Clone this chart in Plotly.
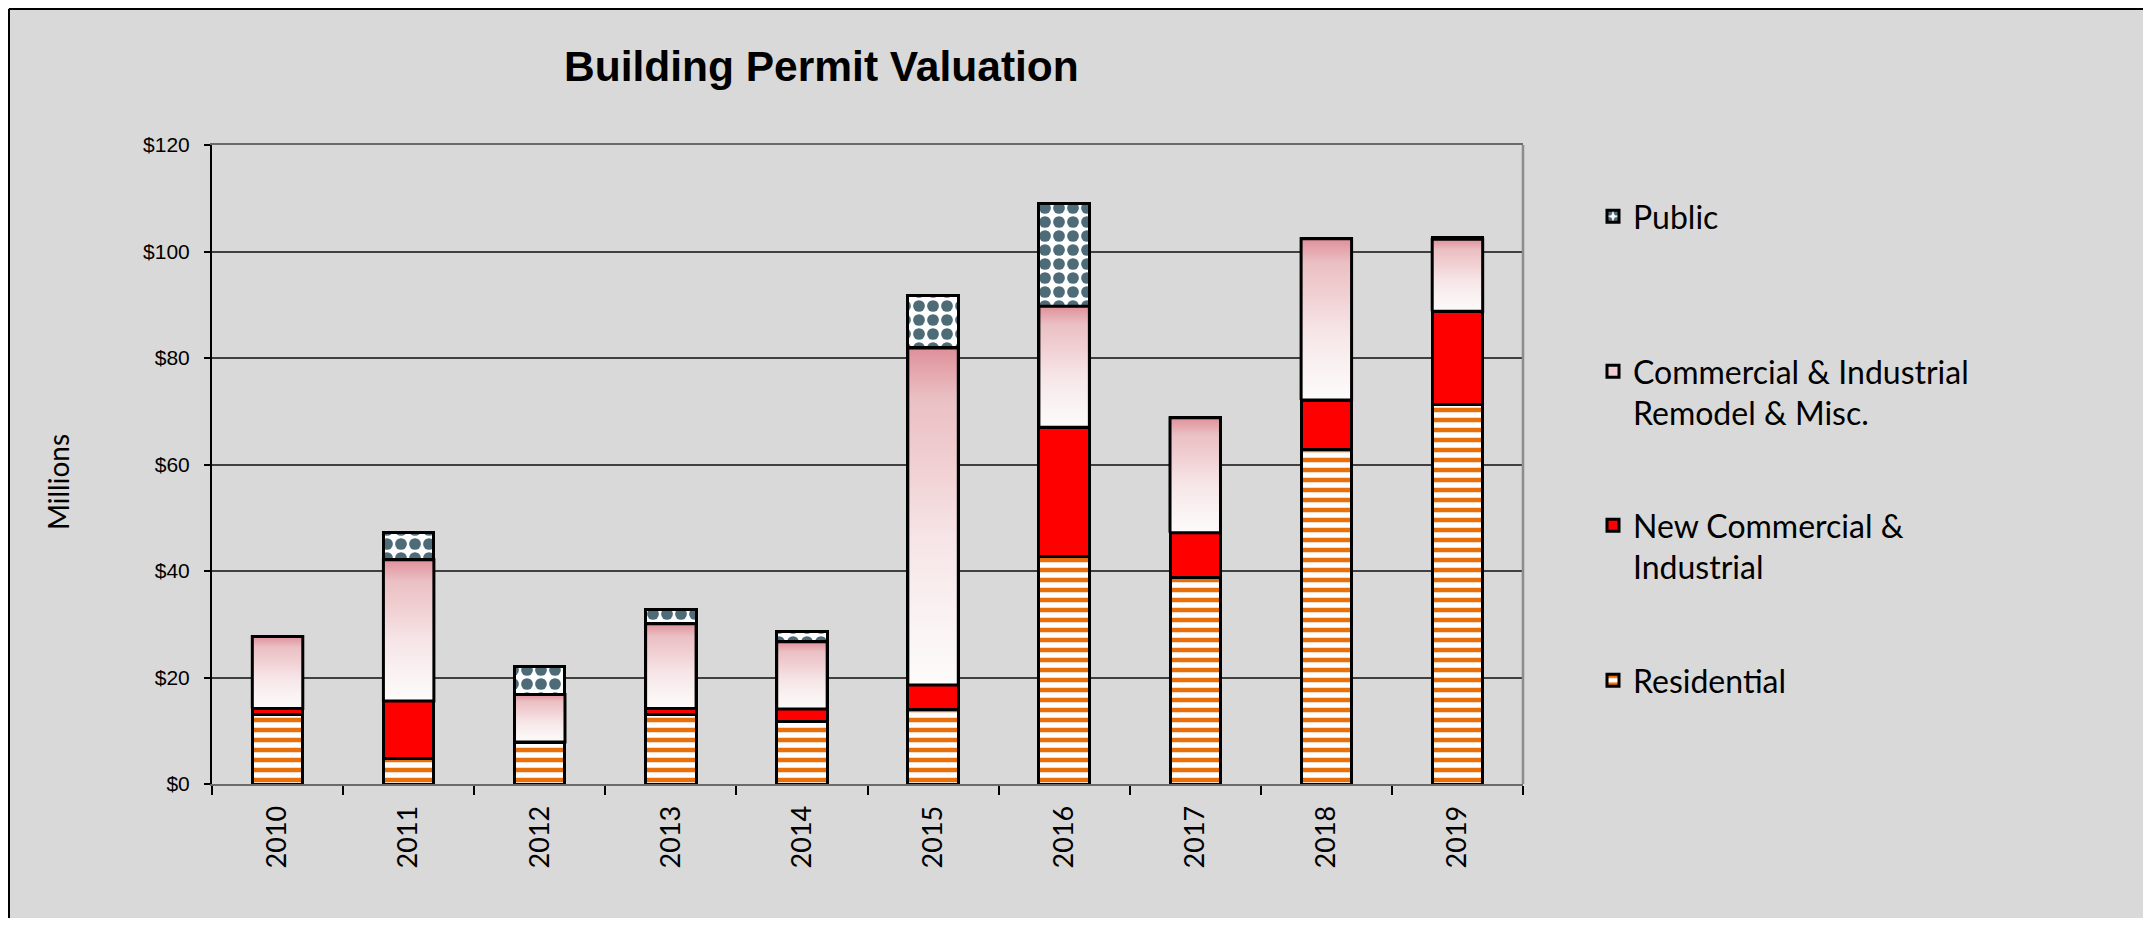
import plotly.graph_objects as go

# ---------------- data (US$ millions) ----------------
years = ['2010', '2011', '2012', '2013', '2014', '2015', '2016', '2017', '2018', '2019']
residential = [13.0, 4.7, 7.8, 13.0, 11.8, 13.9, 42.7, 38.8, 62.9, 71.2]
new_commercial = [1.2, 10.9, 0.1, 1.2, 2.3, 4.7, 24.3, 8.4, 9.2, 17.6]
remodel = [13.5, 26.5, 8.9, 15.9, 12.6, 63.3, 22.7, 21.6, 30.3, 13.5]
public = [0.0, 5.1, 5.2, 2.6, 2.0, 9.8, 19.3, 0.0, 0.0, 0.3]
y_ticks = [0, 20, 40, 60, 80, 100, 120]

series_names = {
    'public': 'Public',
    'remodel': 'Commercial & Industrial<br>Remodel & Misc.',
    'new': 'New Commercial &<br>Industrial',
    'res': 'Residential',
}

# ---------------- layout constants ----------------
# the page body has an 8px margin, so the figure is offset by 8px
OFF = 8
W, H = 2151 - OFF, 926 - 2 * OFF
ML, MR, MT, MB = 212 - OFF, 628, 145 - OFF, 926 - 784 - OFF
PW, PH = W - ML - MR, H - MT - MB
BW = 0.385
OUTLINE = dict(color='black', width=3)
LEG_FONT = dict(family='Lato, "Open Sans", sans-serif', size=32, color='black')


def px_x(px):  # page pixel -> paper x
    return (px - OFF - ML) / PW


def px_y(py):  # page pixel -> paper y
    return (H - MB - (py - OFF)) / PH


xs = list(range(len(years)))

fig = go.Figure()

fig.add_trace(go.Bar(
    x=xs, y=residential, width=BW, name=series_names['res'], legend='legend4',
    marker=dict(color='white', line=OUTLINE,
                pattern=dict(shape='-', fgcolor='#E8700C', bgcolor='white', fgopacity=1,
                             size=10, solidity=0.45)),
))
fig.add_trace(go.Bar(
    x=xs, y=new_commercial, width=BW, name=series_names['new'], legend='legend3',
    marker=dict(color='#FF0000', line=OUTLINE),
))
fig.add_trace(go.Bar(
    x=xs, y=remodel, width=BW, name=series_names['remodel'], legend='legend2',
    marker=dict(color='#F1CDD1', line=OUTLINE),
))
fig.add_trace(go.Bar(
    x=xs, y=public, width=BW, name=series_names['public'], legend='legend',
    marker=dict(color='white', line=OUTLINE,
                pattern=dict(shape='.', fgcolor='#4E6B78', bgcolor='white', fgopacity=1,
                             size=14, solidity=0.55)),
))

# gradient overlay for the remodel segments (computed from the data arrays)
grad_scale = [[0.0, '#FDFBFB'], [0.2, '#FAF2F2'], [0.44, '#F6E4E6'],
              [0.68, '#F0CDD0'], [0.85, '#EAC0C4'], [1.0, '#E0909A']]
for i in xs:
    b = residential[i] + new_commercial[i]
    t = b + remodel[i]
    x0, x1 = i - BW / 2, i + BW / 2
    fig.add_trace(go.Scatter(
        x=[x0, x1, x1, x0, x0], y=[b, b, t, t, b], mode='lines',
        fill='toself', line=OUTLINE,
        fillgradient=dict(type='vertical', colorscale=grad_scale),
        showlegend=False, hoverinfo='skip',
    ))

legend_common = dict(xref='paper', yref='paper', x=px_x(1593), xanchor='left',
                     yanchor='top', font=LEG_FONT, bgcolor='rgba(0,0,0,0)',
                     valign='top', borderwidth=0)

fig.update_layout(
    width=W, height=H,
    margin=dict(l=ML, r=MR, t=MT, b=MB, autoexpand=False),
    barmode='stack',
    paper_bgcolor='#D9D9D9',
    plot_bgcolor='rgba(0,0,0,0)',
    font=dict(family='"Liberation Sans", Arial, sans-serif', color='black'),
    legend=dict(y=px_y(189), **legend_common),
    legend2=dict(y=px_y(344), **legend_common),
    legend3=dict(y=px_y(498), **legend_common),
    legend4=dict(y=px_y(653), **legend_common),
    xaxis=dict(
        range=[-0.5, len(years) - 0.5], tickmode='array', tickvals=xs, ticktext=years,
        tickangle=-90, ticks='outside', ticklen=9, tickcolor='rgba(0,0,0,0)',
        ticklabelstandoff=0,
        tickfont=dict(family='Lato, "Open Sans", sans-serif', size=27, color='black'),
        showgrid=False, zeroline=False,
        showline=True, linecolor='#6B6B6B', linewidth=2, mirror=True,
        minor=dict(tickmode='array', tickvals=[v - 0.5 for v in xs] + [len(years) - 0.5],
                   ticks='outside', ticklen=9, tickwidth=1.5, tickcolor='black',
                   showgrid=False),
    ),
    yaxis=dict(
        range=[0, 120], tickmode='array', tickvals=y_ticks,
        ticktext=['$' + str(v) for v in y_ticks],
        ticks='outside', ticklen=6, tickwidth=1.5, tickcolor='black',
        ticklabelstandoff=10,
        tickfont=dict(family='"Liberation Sans", Arial, sans-serif', size=21, color='black'),
        showgrid=True, gridcolor='#404040', gridwidth=1.5, zeroline=False,
        showline=True, linecolor='black', linewidth=2,
    ),
    shapes=[
        dict(type='line', xref='paper', yref='paper', layer='above',
             x0=px_x(9), x1=px_x(9), y0=px_y(940), y1=px_y(9),
             line=dict(color='black', width=2)),
        dict(type='line', xref='paper', yref='paper', layer='above',
             x0=px_x(9), x1=px_x(2148.5), y0=px_y(9), y1=px_y(9),
             line=dict(color='black', width=2)),
        dict(type='line', xref='paper', yref='paper', layer='above',
             x0=px_x(2148.5), x1=px_x(2148.5), y0=px_y(940), y1=px_y(9),
             line=dict(color='#5A5A5A', width=2)),
        dict(type='line', xref='paper', yref='paper', layer='above',
             x0=1, x1=1, y0=0, y1=1, line=dict(color='#8C8C8C', width=2.5)),
    ],
    annotations=[
        dict(text='<b>Building Permit Valuation</b>', xref='paper', yref='paper',
             x=px_x(821), y=px_y(66), xanchor='center', yanchor='middle', showarrow=False,
             font=dict(family='"Liberation Sans", Arial, sans-serif', size=42.5, color='black')),
        dict(text='Millions', xref='paper', yref='paper', textangle=-90,
             x=px_x(58), y=px_y(482), xanchor='center', yanchor='middle', showarrow=False,
             font=dict(family='Lato, "Open Sans", sans-serif', size=28, color='black')),
    ],
)

fig.write_html('out.html')
